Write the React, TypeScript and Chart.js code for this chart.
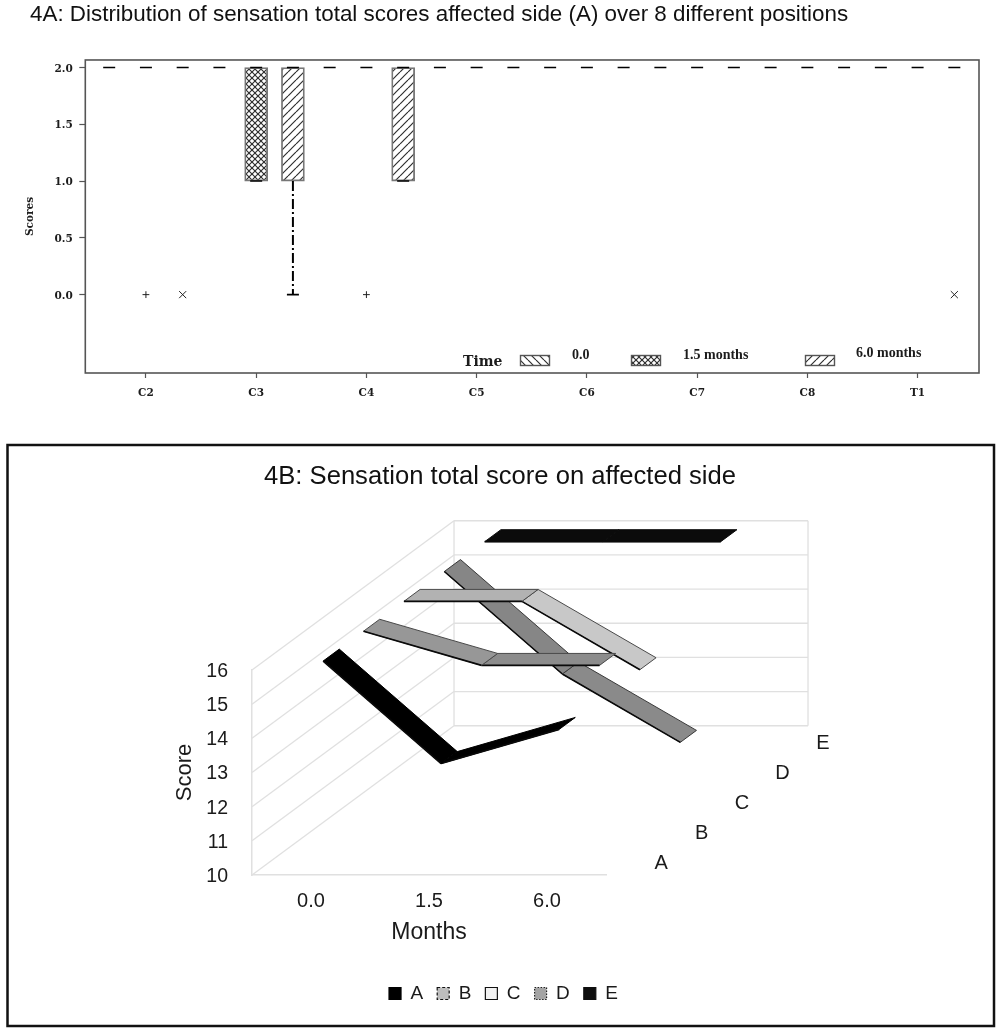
import React, { useEffect, useRef } from "react";
import { Chart, registerables } from "chart.js";

Chart.register(...registerables);

// ---- 4A data ----
const positions = ["C2", "C3", "C4", "C5", "C6", "C7", "C8", "T1"];
const timeLabels = ["0.0", "1.5 months", "6.0 months"];
const yTicksA = [0, 0.5, 1, 1.5, 2];
const upperQuartile = [2, 2, 2, 2, 2, 2, 2, 2];
const lowerQuartile0 = [2, 2, 2, 2, 2, 2, 2, 2];
const lowerQuartile15 = [2, 1, 2, 2, 2, 2, 2, 2];
const lowerQuartile60 = [2, 1, 1, 2, 2, 2, 2, 2];
const lowerWhisker0 = [2, 2, 2, 2, 2, 2, 2, 2];
const lowerWhisker15 = [2, 1, 2, 2, 2, 2, 2, 2];
const lowerWhisker60 = [2, 0, 1, 2, 2, 2, 2, 2];
const outliers15 = [0, null, 0, null, null, null, null, null];
const outliers60 = [0, null, null, null, null, null, null, 0];

// ---- 4B data ----
const months = ["0.0", "1.5", "6.0"];
const scoreTicks = [10, 11, 12, 13, 14, 15, 16];
const seriesNames = ["A", "B", "C", "D", "E"];
const scoresA = [16, 13, 14];
const scoresB = [16, 15, 15];
const scoresC = [16, 16, 14];
const scoresD = [16, 13, 11];
const scoresE = [16, 16, 16];
const shadesA = ["#000000", "#000000"];
const shadesB = ["#979797", "#8c8c8c"];
const shadesC = ["#b2b2b2", "#c8c8c8"];
const shadesD = ["#868686", "#8a8a8a"];
const shadesE = ["#0b0b0b", "#0b0b0b"];
const edgesOfSeries = ["#000000", "#4a4a4a", "#4a4a4a", "#3a3a3a", "#0b0b0b"];

// ---- style / layout ----
const SERIF_TICK = "'DejaVu Serif'";
const SERIF_LEGEND = "'Liberation Serif'";
const SANS = "'Liberation Sans'";
const FRAME = "#555555";
const WALL = "#e0e0e0";
const DEPTH_X = 0.3424; // x-units per series in depth
const DEPTH_Y = 0.8738; // score-units per series in depth
const WALL_DEPTH = 5;

type Kind = "back" | "cross" | "forward";
function hatch(kind: Kind): CanvasPattern {
  const s = kind === "cross" ? 6 : 8;
  const c = document.createElement("canvas");
  c.width = s;
  c.height = s;
  const g = c.getContext("2d")!;
  g.fillStyle = "#ffffff";
  g.fillRect(0, 0, s, s);
  g.strokeStyle = "#2e2e2e";
  g.lineWidth = 1.15;
  const fwd = () => {
    for (const o of [-s, 0, s]) {
      g.beginPath();
      g.moveTo(o, s);
      g.lineTo(o + s, 0);
      g.stroke();
    }
  };
  const bck = () => {
    for (const o of [-s, 0, s]) {
      g.beginPath();
      g.moveTo(o, 0);
      g.lineTo(o + s, s);
      g.stroke();
    }
  };
  if (kind !== "back") fwd();
  if (kind !== "forward") bck();
  return g.createPattern(c, "repeat")!;
}

function buildChartA(canvas: HTMLCanvasElement) {
  const patterns = [hatch("back"), hatch("cross"), hatch("forward")];
  const offsets = [-1 / 3, 0, 1 / 3];
  const q1s = [lowerQuartile0, lowerQuartile15, lowerQuartile60];
  const lows = [lowerWhisker0, lowerWhisker15, lowerWhisker60];

  const capPoints: { x: number; y: number }[] = [];
  const bars: any[] = [];
  const whiskers: any[] = [];
  timeLabels.forEach((label, t) => {
    positions.forEach((_, i) => {
      const x = i + offsets[t];
      capPoints.push({ x, y: upperQuartile[i] });
      if (lows[t][i] < upperQuartile[i]) capPoints.push({ x, y: lows[t][i] });
      if (lows[t][i] < q1s[t][i]) {
        whiskers.push({
          type: "line",
          label: `${label} whisker`,
          data: [
            { x, y: q1s[t][i] },
            { x, y: lows[t][i] },
          ],
          borderColor: "#000000",
          borderWidth: 2,
          borderDash: [10, 3, 2, 3],
          pointRadius: 0,
          tension: 0,
        });
      }
    });
    bars.push({
      type: "bar",
      label,
      data: positions
        .map((_, i) => ({ x: i + offsets[t], y: [q1s[t][i], upperQuartile[i]] }))
        .filter((d) => d.y[0] < d.y[1]),
      backgroundColor: patterns[t],
      borderColor: "#777777",
      borderWidth: 1.8,
      borderSkipped: false,
      barThickness: 23,
      grouped: false,
    });
  });

  const outlierSet = (vals: (number | null)[], off: number, style: string, r: number, label: string) => ({
    type: "scatter",
    label,
    data: vals
      .map((v, i) => ({ x: i + off, y: v }))
      .filter((d) => d.y !== null),
    pointStyle: style,
    pointRadius: r,
    pointBorderWidth: 1,
    pointBorderColor: "#222222",
    pointBackgroundColor: "#222222",
    showLine: false,
  });

  const frameAndLegend = {
    id: "frameAndLegend",
    afterDatasetsDraw(chart: any) {
      const { ctx, chartArea: a } = chart;
      ctx.save();
      ctx.strokeStyle = FRAME;
      ctx.lineWidth = 1.6;
      ctx.strokeRect(a.left, a.top, a.right - a.left, a.bottom - a.top);
      ctx.fillStyle = "#1c1c1c";
      ctx.textBaseline = "middle";
      ctx.font = `bold 14px ${SERIF_TICK}`;
      ctx.fillText("Time", 463, 362);
      const swatchX = [520.5, 631.5, 805.5];
      const textX = [572, 683, 856];
      const textY = [355, 355.5, 353];
      timeLabels.forEach((label, t) => {
        ctx.fillStyle = patterns[t];
        ctx.fillRect(swatchX[t], 355.5, 29, 10);
        ctx.strokeStyle = FRAME;
        ctx.lineWidth = 1.4;
        ctx.strokeRect(swatchX[t], 355.5, 29, 10);
        ctx.fillStyle = "#1c1c1c";
        ctx.font = `bold 14px ${SERIF_LEGEND}`;
        ctx.fillText(label, textX[t], textY[t]);
      });
      ctx.restore();
    },
  };

  return new Chart(canvas, {
    type: "bar",
    data: {
      datasets: [
        {
          type: "scatter",
          label: "Whisker caps",
          data: capPoints,
          pointStyle: "line",
          pointRadius: 6,
          pointBorderWidth: 1.6,
          pointBorderColor: "#000000",
          showLine: false,
        },
        outlierSet(outliers15, 0, "cross", 3.4, "Outliers 1.5 months"),
        outlierSet(outliers60, 1 / 3, "crossRot", 5, "Outliers 6.0 months"),
        ...whiskers,
        ...bars,
      ] as any,
    },
    plugins: [frameAndLegend],
    options: {
      responsive: false,
      animation: false,
      devicePixelRatio: 1,
      layout: { padding: { left: 30, right: 21, top: 0, bottom: 0 } },
      plugins: {
        legend: { display: false },
        tooltip: { enabled: false },
        title: {
          display: true,
          text: "4A: Distribution of sensation total scores affected side (A) over 8 different positions",
          align: "start",
          color: "#111111",
          font: { family: SANS, size: 22.4, weight: "normal" },
          padding: { top: 1.55, bottom: 31.55 },
        },
      },
      scales: {
        x: {
          type: "linear",
          offset: false,
          min: -0.55,
          max: 7.557,
          afterBuildTicks(s: any) {
            s.ticks = positions.map((_, i) => ({ value: i }));
          },
          afterFit(s: any) {
            s.height = 57;
          },
          border: { display: false },
          grid: { offset: false, drawOnChartArea: false, tickLength: 5, tickColor: FRAME, tickWidth: 1.2 },
          ticks: {
            autoSkip: false,
            maxRotation: 0,
            padding: 8.5,
            color: "#1c1c1c",
            font: { family: SERIF_TICK, size: 10.5, weight: "bold" },
            callback: (v: any) => positions[v],
          },
        },
        y: {
          type: "linear",
          min: -0.69,
          max: 2.066,
          afterBuildTicks(s: any) {
            s.ticks = yTicksA.map((value) => ({ value }));
          },
          afterFit(s: any) {
            s.width = 55.3;
          },
          border: { display: false },
          grid: { drawOnChartArea: false, tickLength: 6, tickColor: FRAME, tickWidth: 1.2 },
          ticks: {
            padding: 6.5,
            labelOffset: 1.5,
            color: "#1c1c1c",
            font: { family: SERIF_TICK, size: 10.5, weight: "bold" },
            callback: (v: any) => Number(v).toFixed(1),
          },
          title: {
            display: true,
            text: "Scores",
            color: "#1c1c1c",
            font: { family: SERIF_TICK, size: 10.5, weight: "bold" },
            padding: { top: -5.8, bottom: 0 },
          },
        },
      },
    } as any,
  });
}

const project = (pos: number, score: number, depth: number) => ({
  x: pos + depth * DEPTH_X,
  y: score + depth * DEPTH_Y,
});

function ribbonDatasets() {
  const all = [scoresA, scoresB, scoresC, scoresD, scoresE];
  const shades = [shadesA, shadesB, shadesC, shadesD, shadesE];
  const sets: any[] = [];
  all.forEach((scores, s) => {
    const near = s + 0.3;
    const far = s + 0.7;
    for (let m = 0; m < scores.length - 1; m++) {
      const p0 = m + 0.5;
      const p1 = m + 1.5;
      const a = scores[m];
      const b = scores[m + 1];
      sets.push({
        type: "line",
        label: `${seriesNames[s]} ${months[m]}-${months[m + 1]}`,
        ribbon: true,
        data: [
          project(p0, a, near),
          project(p1, b, near),
          project(p1, b, far),
          project(p0, a, far),
          project(p0, a, near),
        ],
        backgroundColor: shades[s][m],
        borderColor: edgesOfSeries[s],
        borderWidth: 1,
        borderJoinStyle: "round",
        pointRadius: 0,
        tension: 0,
        fill: false,
        clip: false,
      });
    }
  });
  return sets;
}

function buildChartB(canvas: HTMLCanvasElement) {
  const legendStyles = [
    { fillStyle: "#000000", strokeStyle: "#000000", lineDash: [] as number[] },
    { fillStyle: "#bdbdbd", strokeStyle: "#111111", lineDash: [3, 2] },
    { fillStyle: "#f2f2f2", strokeStyle: "#111111", lineDash: [] as number[] },
    { fillStyle: "#a4a4a4", strokeStyle: "#222222", lineDash: [1.5, 1.5] },
    { fillStyle: "#0e0e0e", strokeStyle: "#0e0e0e", lineDash: [] as number[] },
  ];

  const wallsAndLabels = {
    id: "wallsAndLabels",
    afterLayout(chart: any) {
      chart.legend.left += 3.5;
      chart.legend.right += 3.5;
    },
    beforeDraw(chart: any) {
      const { ctx, width, height } = chart;
      ctx.save();
      ctx.fillStyle = "#ffffff";
      ctx.fillRect(0, 0, width, height);
      ctx.strokeStyle = "#111111";
      ctx.lineWidth = 2.5;
      ctx.strokeRect(7.5, 13, 986.5, 581);
      ctx.restore();
    },
    beforeDatasetsDraw(chart: any) {
      const { ctx, scales } = chart;
      const X = (p: { x: number; y: number }) => scales.x.getPixelForValue(p.x);
      const Y = (p: { x: number; y: number }) => scales.y.getPixelForValue(p.y);
      const seg = (a: any, b: any) => {
        ctx.beginPath();
        ctx.moveTo(X(a), Y(a));
        ctx.lineTo(X(b), Y(b));
        ctx.stroke();
      };
      ctx.save();
      ctx.strokeStyle = WALL;
      ctx.lineWidth = 1.3;
      scoreTicks.forEach((v) => {
        seg(project(0, v, 0), project(0, v, WALL_DEPTH));
        seg(project(0, v, WALL_DEPTH), project(3, v, WALL_DEPTH));
      });
      seg(project(0, 10, WALL_DEPTH), project(0, 16, WALL_DEPTH));
      seg(project(3, 10, WALL_DEPTH), project(3, 16, WALL_DEPTH));
      ctx.restore();
    },
    beforeDatasetDraw(chart: any, args: any) {
      const ds = chart.data.datasets[args.index];
      if (!ds.ribbon) return;
      const { ctx } = chart;
      const pts = args.meta.data;
      ctx.save();
      ctx.fillStyle = ds.backgroundColor;
      ctx.beginPath();
      pts.forEach((p: any, i: number) => (i ? ctx.lineTo(p.x, p.y) : ctx.moveTo(p.x, p.y)));
      ctx.closePath();
      ctx.fill();
      ctx.restore();
    },
    afterDatasetDraw(chart: any, args: any) {
      const ds = chart.data.datasets[args.index];
      if (!ds.ribbon) return;
      const { ctx } = chart;
      const [a, b] = args.meta.data;
      ctx.save();
      ctx.strokeStyle = "#0a0a0a";
      ctx.lineWidth = 1.6;
      ctx.beginPath();
      ctx.moveTo(a.x, a.y);
      ctx.lineTo(b.x, b.y);
      ctx.stroke();
      ctx.restore();
    },
    afterDatasetsDraw(chart: any) {
      const { ctx, scales } = chart;
      ctx.save();
      ctx.fillStyle = "#1a1a1a";
      ctx.font = `20px ${SANS}`;
      ctx.textAlign = "center";
      ctx.textBaseline = "middle";
      seriesNames.forEach((name, s) => {
        const p = project(3, 10, s + 0.5);
        ctx.fillText(name, scales.x.getPixelForValue(p.x) + 35, scales.y.getPixelForValue(p.y) + 3);
      });
      ctx.restore();
    },
  };

  return new Chart(canvas, {
    type: "line",
    data: { datasets: ribbonDatasets() },
    plugins: [wallsAndLabels],
    options: {
      responsive: false,
      animation: false,
      devicePixelRatio: 1,
      layout: { padding: { left: 171, right: 171, top: 0, bottom: 19 } },
      plugins: {
        tooltip: { enabled: false },
        title: {
          display: true,
          text: "4B: Sensation total score on affected side",
          color: "#111111",
          font: { family: SANS, size: 25.6, weight: "normal" },
          padding: { top: 29.6, bottom: 177.7 },
        },
        legend: {
          display: true,
          position: "bottom",
          onClick: null,
          labels: {
            boxWidth: 12,
            boxHeight: 12,
            padding: 14,
            color: "#1a1a1a",
            font: { family: SANS, size: 19 },
            generateLabels: () =>
              seriesNames.map((text, i) => ({
                text,
                lineWidth: 1.2,
                fontColor: "#1a1a1a",
                ...legendStyles[i],
              })),
          },
        },
      },
      scales: {
        x: {
          type: "linear",
          min: 0,
          max: 3,
          afterBuildTicks(s: any) {
            s.ticks = months.map((_, i) => ({ value: i + 0.5 }));
          },
          afterFit(s: any) {
            s.height = 95;
          },
          border: { display: true, color: WALL, width: 1.5 },
          grid: { display: false, drawTicks: false },
          ticks: {
            autoSkip: false,
            maxRotation: 0,
            padding: 14,
            color: "#1a1a1a",
            font: { family: SANS, size: 20 },
            callback: (v: any) => months[Math.floor(v)],
          },
          title: {
            display: true,
            text: "Months",
            color: "#1a1a1a",
            font: { family: SANS, size: 23 },
            padding: { top: 0, bottom: 24 },
          },
        },
        y: {
          type: "linear",
          min: 10,
          max: 16,
          afterBuildTicks(s: any) {
            s.ticks = scoreTicks.map((value) => ({ value }));
          },
          afterFit(s: any) {
            s.width = 81;
          },
          border: { display: true, color: WALL, width: 1.5 },
          grid: { display: false, drawTicks: false },
          ticks: {
            padding: 24,
            labelOffset: 1.5,
            color: "#1a1a1a",
            font: { family: SANS, size: 19.5 },
          },
          title: {
            display: true,
            text: "Score",
            color: "#1a1a1a",
            font: { family: SANS, size: 22 },
            padding: { top: 1, bottom: 0 },
          },
        },
        gutter: {
          type: "linear",
          position: "right",
          display: true,
          afterFit(s: any) {
            s.width = 223;
          },
          border: { display: false },
          grid: { display: false, drawTicks: false },
          ticks: { display: false },
        },
      },
    } as any,
  });
}

export default function App() {
  const refA = useRef<HTMLCanvasElement>(null);
  const refB = useRef<HTMLCanvasElement>(null);
  useEffect(() => {
    const a = buildChartA(refA.current!);
    const b = buildChartB(refB.current!);
    return () => {
      a.destroy();
      b.destroy();
    };
  }, []);
  return (
    <div style={{ position: "absolute", left: 0, top: 0, width: 1000, height: 1032, background: "#fff", overflow: "hidden" }}>
      <canvas ref={refA} width={1000} height={430} style={{ position: "absolute", left: 0, top: 0, display: "block" }} />
      <canvas ref={refB} width={1000} height={600} style={{ position: "absolute", left: 0, top: 432, display: "block" }} />
    </div>
  );
}
